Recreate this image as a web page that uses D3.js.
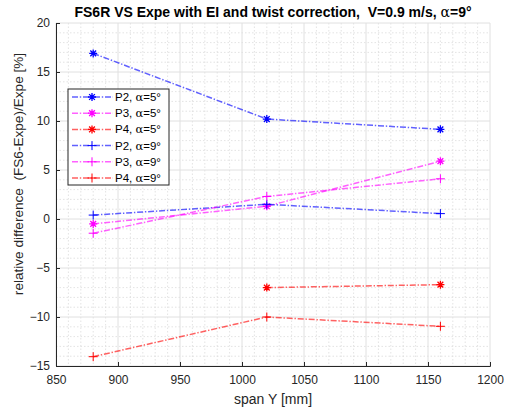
<!DOCTYPE html>
<html>
<head>
<meta charset="utf-8">
<script src="https://cdn.jsdelivr.net/npm/d3@7"></script>
<style>
  body { margin: 0; background: #fff; }
  svg { display: block; font-family: "Liberation Sans", Arial, sans-serif; }
  text { white-space: pre; }
  .tick text { fill: #262626; font-size: 12px; }
  .greek { font-family: "DejaVu Serif", "Liberation Serif", serif; }
</style>
</head>
<body>
<svg id="chart" width="506" height="414"></svg>
<script>
// span positions (mm)
var spanY = [880, 1020, 1160];

// relative difference (%) per probe and incidence
var p2a5 = [16.9, 10.2, 9.15];
var p3a5 = [-0.5, 1.3, 5.9];
var p4a5 = [null, -7.0, -6.7];
var p2a9 = [0.4, 1.5, 0.55];
var p3a9 = [-1.45, 2.3, 4.1];
var p4a9 = [-14.05, -10.0, -10.95];

var seriesNames = ["P2", "P3", "P4", "P2", "P3", "P4"];
var seriesAlpha = ["5", "5", "5", "9", "9", "9"];
var seriesValues = [p2a5, p3a5, p4a5, p2a9, p3a9, p4a9];
var seriesColors = ["#0000ff", "#ff00ff", "#ff0000", "#0000ff", "#ff00ff", "#ff0000"];
var seriesMarkers = ["star", "star", "star", "plus", "plus", "plus"];

var xTicks = [850, 900, 950, 1000, 1050, 1100, 1150, 1200];
var yTicks = [-15, -10, -5, 0, 5, 10, 15, 20];

var margin = {top: 23, right: 16, bottom: 48, left: 56};
var width = 506 - margin.left - margin.right,
    height = 414 - margin.top - margin.bottom;

var svg = d3.select("#chart");
var g = svg.append("g")
    .attr("transform", "translate(" + margin.left + "," + margin.top + ")");

var x = d3.scaleLinear().domain([850, 1200]).range([0, width]);
var y = d3.scaleLinear().domain([-15, 20]).range([height, 0]);

// minor grid
var xMinor = d3.range(850, 1201, 10).filter(function(v) { return v % 50 != 0; });
var yMinor = d3.range(-15, 21, 1).filter(function(v) { return v % 5 != 0; });

g.selectAll(".xminor").data(xMinor).enter().append("line")
    .attr("x1", function(d) { return x(d); }).attr("x2", function(d) { return x(d); })
    .attr("y1", 0).attr("y2", height)
    .attr("stroke", "#dcdcdc").attr("stroke-dasharray", "1.5,2").attr("stroke-width", 0.8);
g.selectAll(".yminor").data(yMinor).enter().append("line")
    .attr("x1", 0).attr("x2", width)
    .attr("y1", function(d) { return y(d); }).attr("y2", function(d) { return y(d); })
    .attr("stroke", "#dcdcdc").attr("stroke-dasharray", "1.5,2").attr("stroke-width", 0.8);

// major grid
g.selectAll(".xmajor").data(xTicks).enter().append("line")
    .attr("x1", function(d) { return x(d); }).attr("x2", function(d) { return x(d); })
    .attr("y1", 0).attr("y2", height)
    .attr("stroke", "#e0e0e0").attr("stroke-width", 1);
g.selectAll(".ymajor").data(yTicks).enter().append("line")
    .attr("x1", 0).attr("x2", width)
    .attr("y1", function(d) { return y(d); }).attr("y2", function(d) { return y(d); })
    .attr("stroke", "#e0e0e0").attr("stroke-width", 1);

// axes (ticks inward like matlab)
var xAxis = g.append("g")
    .attr("transform", "translate(0," + height + ")")
    .call(d3.axisBottom(x).tickValues(xTicks).tickSize(-4).tickPadding(9).tickFormat(d3.format("d")));
var yAxis = g.append("g")
    .call(d3.axisLeft(y).tickValues(yTicks).tickSize(-4).tickPadding(6).tickFormat(d3.format("d")));
[xAxis, yAxis].forEach(function(a) {
  a.select(".domain").attr("stroke", "#262626");
  a.selectAll(".tick line").attr("stroke", "#262626");
  a.selectAll(".tick text").style("font-size", "12px");
});

// marker shapes
function markerPath(type, s) {
  if (type == "plus") {
    return "M" + (-s) + ",0H" + s + "M0," + (-s) + "V" + s;
  }
  var d = s * 0.72;
  return "M" + (-s) + ",0H" + s + "M0," + (-s) + "V" + s +
         "M" + (-d) + "," + (-d) + "L" + d + "," + d +
         "M" + (-d) + "," + d + "L" + d + "," + (-d);
}

var line = d3.line()
    .defined(function(d) { return d[1] != null; })
    .x(function(d) { return x(d[0]); })
    .y(function(d) { return y(d[1]); });

var dash = "6,1.8,1.4,1.8";

seriesValues.forEach(function(vals, i) {
  var pts = spanY.map(function(s, j) { return [s, vals[j]]; });
  g.append("path")
    .datum(pts)
    .attr("fill", "none")
    .attr("stroke", seriesColors[i])
    .attr("stroke-opacity", 0.62)
    .attr("stroke-width", 1.5)
    .attr("stroke-dasharray", dash)
    .attr("d", line);
  g.selectAll(null).data(pts.filter(function(p) { return p[1] != null; }))
    .enter().append("path")
    .attr("transform", function(p) { return "translate(" + x(p[0]) + "," + y(p[1]) + ")"; })
    .attr("d", markerPath(seriesMarkers[i], seriesMarkers[i] == "star" ? 4 : 4.5))
    .attr("stroke", seriesColors[i])
    .attr("stroke-width", seriesMarkers[i] == "star" ? 1.3 : 1)
    .attr("fill", "none");
});

// legend
var legend = g.append("g").attr("transform", "translate(12,66)");
legend.append("rect")
    .attr("width", 101).attr("height", 96)
    .attr("fill", "#fff").attr("stroke", "#262626").attr("stroke-width", 1);
seriesNames.forEach(function(name, i) {
  var ly = 8 + i * 16.2;
  var row = legend.append("g").attr("transform", "translate(0," + ly + ")");
  row.append("line")
    .attr("x1", 4).attr("x2", 45).attr("y1", 0).attr("y2", 0)
    .attr("stroke", seriesColors[i]).attr("stroke-opacity", 0.62).attr("stroke-width", 1.5)
    .attr("stroke-dasharray", dash);
  row.append("path")
    .attr("transform", "translate(24,0)")
    .attr("d", markerPath(seriesMarkers[i], seriesMarkers[i] == "star" ? 4 : 4.5))
    .attr("stroke", seriesColors[i]).attr("fill", "none")
    .attr("stroke-width", seriesMarkers[i] == "star" ? 1.3 : 1);
  var t = row.append("text")
    .attr("x", 47).attr("y", 4)
    .attr("fill", "#000").style("font-size", "11.5px");
  t.append("tspan").text(name + ", ");
  t.append("tspan").attr("class", "greek").text("α");
  t.append("tspan").text("=" + seriesAlpha[i] + "°");
});

// title and axis labels
var title = svg.append("text")
    .attr("x", margin.left + width / 2).attr("y", 17)
    .attr("text-anchor", "middle")
    .style("font-size", "14px").style("font-weight", "bold")
    .attr("fill", "#000");
title.append("tspan").text("FS6R VS Expe with EI and twist correction,  V=0.9 m/s, ");
title.append("tspan").attr("class", "greek").style("font-weight", "normal").text("α");
title.append("tspan").text("=9°");

svg.append("text")
    .attr("x", margin.left + width / 2).attr("y", 404)
    .attr("text-anchor", "middle")
    .style("font-size", "14px").attr("fill", "#262626")
    .text("span Y [mm]");

svg.append("text")
    .attr("transform", "translate(23,174) rotate(-90)")
    .attr("text-anchor", "middle")
    .style("font-size", "13.6px").attr("fill", "#262626")
    .text("relative difference  (FS6-Expe)/Expe [%]");
</script>
</body>
</html>
